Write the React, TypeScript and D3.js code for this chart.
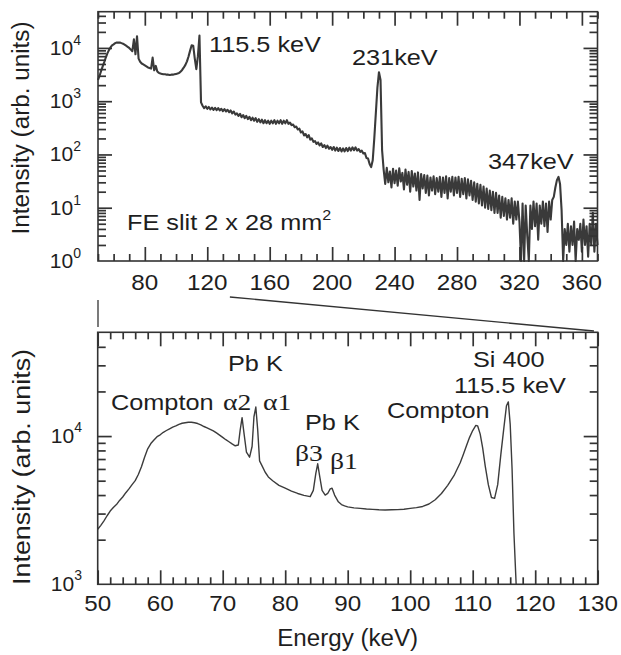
import React from "react";
import * as d3 from "d3";

// wide spectrum (top panel), one reading per keV starting at 50 keV
const wideStartKeV = 50;
const wideCounts = [
  2500, 3000, 3700, 4500, 5400, 6600, 7900, 9100, 10200, 11200,
  11700, 12300, 12600, 12600, 12600, 12300, 12000, 11500, 11000, 10500,
  10000, 9300, 8700, 14500, 7600, 16600, 6300, 5500, 5100, 4900,
  4700, 4500, 4300, 4200, 4100, 6600, 3800, 4600, 3600, 3400,
  3300, 3250, 3200, 3200, 3150, 3150, 3100, 3150, 3150, 3200,
  3250, 3300, 3400, 3600, 3900, 4300, 4800, 5600, 6900, 8900,
  11200, 11000, 6300, 4000, 7000, 17000, 950, 820, 740, 800,
  720, 780, 700, 760, 690, 750, 680, 740, 670, 720,
  650, 710, 640, 690, 620, 670, 590, 640, 560, 590,
  530, 580, 500, 550, 480, 530, 460, 510, 440, 490,
  430, 480, 410, 460, 400, 450, 385, 440, 385, 430,
  375, 430, 385, 440, 375, 430, 385, 440, 375, 430,
  385, 440, 375, 395, 355, 365, 325, 335, 295, 305,
  258, 272, 228, 242, 210, 230, 190, 200, 172, 178,
  158, 168, 148, 162, 138, 150, 132, 146, 128, 138,
  122, 138, 118, 134, 116, 132, 114, 130, 114, 132,
  116, 134, 118, 136, 120, 136, 118, 126, 112, 118,
  104, 106, 86, 84, 66, 58, 78, 200, 600, 1800,
  3500, 2500, 120, 52, 28, 56, 30, 48, 24, 54,
  29, 50, 26, 55, 31, 45, 22, 52, 27, 47,
  20, 49, 25, 44, 21, 46, 14, 43, 23, 41,
  19, 40, 17, 37, 21, 39, 18, 36, 20, 38,
  16, 37, 19, 39, 15, 36, 20, 38, 17, 37,
  19, 38, 16, 35, 18, 36, 15, 34, 17, 32,
  14, 30, 13, 28, 12, 27, 11, 25, 10, 23,
  9.5, 21, 9, 20, 8, 19, 8, 17, 6.5, 16,
  7, 15, 6, 14, 6.5, 15, 5, 13, 6, 13,
  5.5, 1, 12, 1, 11, 3, 1, 11, 4, 13,
  4.5, 12, 2.5, 11, 5, 13, 4.5, 12, 3.5, 13,
  6, 14, 16, 24, 33, 38, 28, 9, 1, 4,
  2, 5, 1.5, 4.5, 2, 5.5, 1, 4, 2.5, 5,
  1.5, 6, 2, 4.5, 1.2, 5, 2, 8, 1.5, 5, 2,
];

// detail of 50-117 keV (bottom panel)
const zoomKeV = [
  50, 50.5, 51, 51.5, 52, 52.5, 53, 53.5, 54, 54.5, 55, 55.5, 56, 56.5, 57, 57.5,
  58, 58.5, 59, 59.5, 60, 60.5, 61, 61.5, 62, 62.5, 63, 63.5, 64, 64.5, 65, 65.5,
  66, 66.5, 67, 67.5, 68, 68.5, 69, 69.5, 70, 70.5, 71, 71.5, 72, 72.5, 72.8, 73.1,
  73.4, 73.8, 74.3, 74.7, 75, 75.3, 75.6, 75.9, 76.3, 76.8, 77.3, 78, 79, 80,
  81, 82, 83, 84, 84.5, 84.9, 85.2, 85.5, 85.9, 86.4, 86.8, 87.2, 87.5, 87.9,
  88.5, 89, 89.5, 90, 91, 92, 93, 94, 95, 96, 97, 98, 99, 100, 101, 102,
  103, 104, 105, 106, 107, 108, 108.5, 109, 109.5, 110, 110.5, 110.8, 111.2, 111.6,
  112, 112.5, 113, 113.5, 114, 114.5, 115, 115.4, 115.7, 116, 116.3, 116.6, 116.95,
];
const zoomCounts = [
  2350, 2500, 2680, 2900, 3120, 3300, 3450, 3680, 3880, 4150, 4400, 4700, 5000, 5500, 6200, 7200,
  8200, 8900, 9400, 9900, 10200, 10600, 10900, 11200, 11500, 11700, 12000, 12200, 12300, 12400, 12400, 12300,
  12150, 11900, 11600, 11350, 11100, 10850, 10500, 10150, 9800, 9450, 9150, 8850, 8600, 8700, 11000, 13300,
  10500, 7800, 7200, 8500, 13500, 15700, 11000, 6800, 6300, 5700, 5300, 5000, 4650, 4450,
  4250, 4100, 3980, 3900, 4300, 5600, 6500, 5400, 4300, 4000, 4100, 4400, 4450, 4000,
  3600, 3450, 3380, 3330, 3280, 3250, 3220, 3200, 3180, 3170, 3180, 3190, 3210, 3250, 3290, 3350,
  3480, 3720, 4100, 4650, 5400, 6600, 7500, 8600, 9800, 10900, 11800, 11700, 10300, 8300,
  6300, 4700, 3850, 3800, 4700, 7500, 11500, 16000, 17000, 12000, 6000, 2200, 1000,
];

const wideXTicks = [80, 120, 160, 200, 240, 280, 320, 360];
const zoomXTicks = [50, 60, 70, 80, 90, 100, 110, 120, 130];
const wideYExp = [0, 1, 2, 3, 4];
const zoomYExp = [3, 4];

const SANS = "'Liberation Sans', Arial, Helvetica, sans-serif";
const SERIF = "'Liberation Serif', 'Times New Roman', serif";
const INK = "#1e1e1e";
const FRAME = "#333";

// scales
const xWide = d3.scaleLinear().domain([50, 370]).range([98, 597.5]);
const yWide = d3.scaleLog().domain([1, Math.pow(10, 4.68)]).range([261, 11.7]);
const xZoom = d3.scaleLinear().domain([50, 130]).range([97.7, 597.7]);
const yZoom = d3.scaleLog().domain([1000, Math.pow(10, 4.7)]).range([584.3, 332.3]);

const Note = ({ x, y, children, size = 22, family = SANS, sx = 1.15, anchor = "start" }: any) => (
  <text
    transform={`translate(${x},${y}) scale(${sx},1)`}
    fontSize={size}
    fontFamily={family}
    fill={INK}
    textAnchor={anchor}
  >
    {children}
  </text>
);

// d3 axes with inward ticks, drawn on all four sides of a panel
function drawFrame(g: any, xs: any, ys: any, xMinor: number[], xMajor: number[], yExp: number[]) {
  const [l, r] = xs.range();
  const [b, t] = ys.range();
  const [lo, hi] = ys.domain();
  const yTicks = ys.ticks().filter((v: number) => v > lo * 1.001 && v < hi * 0.98);
  const isMajorY = (v: number) => yExp.some((e) => Math.abs(Math.log10(v) - e) < 1e-6);

  const style = (sel: any) => {
    sel.select(".domain").remove();
    sel.selectAll("text").remove();
    sel.selectAll("line").attr("stroke", FRAME).attr("stroke-width", 1.7);
  };

  g.append("g").attr("transform", `translate(0,${b})`)
    .call(d3.axisTop(xs).tickValues(xMinor).tickSize(7)).call(style)
    .selectAll(".tick line").attr("y2", (v: number) => (xMajor.includes(v) ? -14 : -7));
  g.append("g").attr("transform", `translate(0,${t})`)
    .call(d3.axisBottom(xs).tickValues(xMinor).tickSize(7)).call(style)
    .selectAll(".tick line").attr("y2", (v: number) => (xMajor.includes(v) ? 14 : 7));
  g.append("g").attr("transform", `translate(${l},0)`)
    .call(d3.axisRight(ys).tickValues(yTicks).tickSize(8)).call(style)
    .selectAll(".tick line").attr("x2", (v: number) => (isMajorY(v) ? 14 : 8));
  g.append("g").attr("transform", `translate(${r},0)`)
    .call(d3.axisLeft(ys).tickValues(yTicks).tickSize(8)).call(style)
    .selectAll(".tick line").attr("x2", (v: number) => (isMajorY(v) ? -14 : -8));

  g.append("rect")
    .attr("x", l).attr("y", t).attr("width", r - l).attr("height", b - t)
    .attr("fill", "none").attr("stroke", FRAME).attr("stroke-width", 1.6);
}

export default function App() {
  const frameRef = React.useRef<SVGGElement>(null);

  React.useEffect(() => {
    const g = d3.select(frameRef.current);
    g.selectAll("*").remove();
    drawFrame(g, xWide, yWide, d3.range(50, 371, 10), wideXTicks, wideYExp);
    drawFrame(g, xZoom, yZoom, d3.range(50, 131, 2), zoomXTicks, zoomYExp);
  }, []);

  const wideLine = d3
    .line<number>()
    .x((_, i) => xWide(wideStartKeV + i))
    .y((d) => yWide(d))(wideCounts);

  const zoomLine = d3
    .line<number>()
    .x((_, i) => xZoom(zoomKeV[i]))
    .y((d) => yZoom(d))(zoomCounts);

  return (
    <svg
      width={621}
      height={655}
      style={{ position: "absolute", left: 0, top: 0, background: "#fff" }}
    >
      {/* top panel */}
      <path d={wideLine || ""} fill="none" stroke="#3a3a3a" strokeWidth={2.1} strokeLinejoin="round" />
      {wideXTicks.map((v) => (
        <Note key={v} x={xWide(v)} y={290} size={22} sx={1.1} anchor="middle">{v}</Note>
      ))}
      {wideYExp.map((e) => (
        <text key={e} x={81} y={yWide(Math.pow(10, e)) + 7} textAnchor="end" fontSize={21} fontFamily={SANS} fill={INK}>
          10<tspan dy={-10} fontSize={14}>{e}</tspan>
        </text>
      ))}
      <text transform="translate(29,128) rotate(-90)" textAnchor="middle" fontSize={23} fontFamily={SANS} fill={INK} textLength={213} lengthAdjust="spacingAndGlyphs">
        Intensity (arb. units)
      </text>
      <Note x={209} y={52}>115.5 keV</Note>
      <Note x={352} y={65}>231keV</Note>
      <Note x={488} y={169}>347keV</Note>
      <Note x={127} y={230}>
        FE slit 2 x 28 mm<tspan dy={-10} fontSize={14}>2</tspan>
      </Note>

      {/* zoom connectors */}
      <g stroke="#333" strokeWidth={1.3}>
        <line x1={xWide(50)} x2={xWide(50)} y1={300} y2={327} />
        <line x1={xWide(134.5)} y1={297} x2={xZoom(129.4)} y2={331} />
      </g>

      {/* bottom panel */}
      <path d={zoomLine || ""} fill="none" stroke="#3c3c3c" strokeWidth={1.4} strokeLinejoin="round" />
      {zoomXTicks.map((v) => (
        <Note key={v} x={xZoom(v)} y={611} size={22} sx={1.1} anchor="middle">{v}</Note>
      ))}
      {zoomYExp.map((e) => (
        <text key={e} x={82} y={yZoom(Math.pow(10, e)) + 7} textAnchor="end" fontSize={21} fontFamily={SANS} fill={INK}>
          10<tspan dy={-11} fontSize={14}>{e}</tspan>
        </text>
      ))}
      <text transform="translate(30,467) rotate(-90)" textAnchor="middle" fontSize={23} fontFamily={SANS} fill={INK} textLength={236} lengthAdjust="spacingAndGlyphs">
        Intensity (arb. units)
      </text>
      <Note x={xZoom(90)} y={646} size={23} sx={1.05} anchor="middle">Energy (keV)</Note>

      <Note x={228} y={371}>Pb K</Note>
      <Note x={111} y={410}>Compton</Note>
      <Note x={223} y={410} family={SERIF} size={24}>α2</Note>
      <Note x={263} y={410} family={SERIF} size={24}>α1</Note>
      <Note x={305} y={430}>Pb K</Note>
      <Note x={295} y={461} family={SERIF} size={24}>β3</Note>
      <Note x={330} y={469} family={SERIF} size={24}>β1</Note>
      <Note x={387} y={418}>Compton</Note>
      <Note x={473} y={367}>Si 400</Note>
      <Note x={454} y={393}>115.5 keV</Note>

      {/* frames and ticks, drawn by d3 */}
      <g ref={frameRef} />
    </svg>
  );
}
